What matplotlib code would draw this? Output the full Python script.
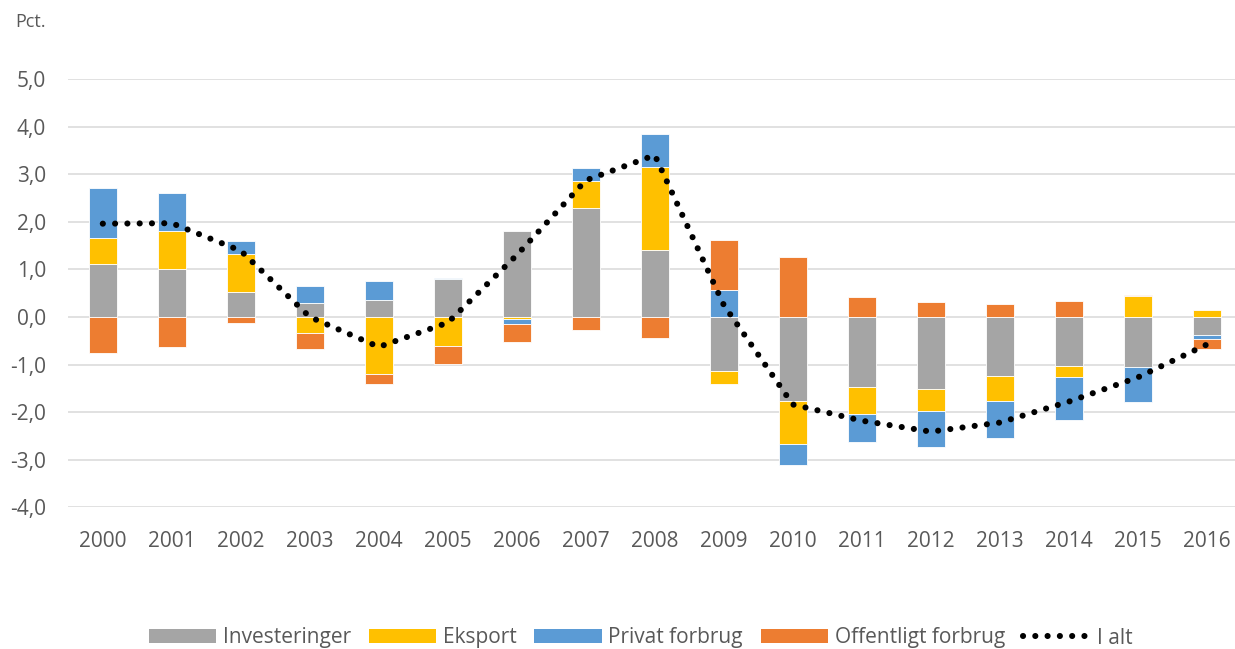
import numpy as np
import matplotlib
matplotlib.use("Agg")
import matplotlib.pyplot as plt
from matplotlib.patches import Patch
from matplotlib.ticker import FuncFormatter

years = [str(y) for y in range(2000, 2017)]
investeringer = [1.12, 1.00, 0.53, 0.29, 0.36, 0.80, 1.81, 2.29, 1.40, -1.14, -1.77, -1.47, -1.52, -1.24, -1.03, -1.06, -0.38]
eksport = [0.54, 0.81, 0.79, -0.33, -1.19, -0.62, -0.05, 0.57, 1.76, -0.26, -0.89, -0.56, -0.45, -0.52, -0.23, 0.43, 0.15]
privat_forbrug = [1.05, 0.80, 0.28, 0.37, 0.40, 0.01, -0.10, 0.27, 0.69, 0.57, -0.46, -0.59, -0.77, -0.78, -0.91, -0.72, -0.09]
offentligt_forbrug = [-0.76, -0.64, -0.13, -0.34, -0.21, -0.36, -0.37, -0.28, -0.44, 1.04, 1.26, 0.42, 0.32, 0.28, 0.33, 0.03, -0.20]
i_alt = [1.96, 1.97, 1.39, 0.0, -0.63, -0.12, 1.30, 2.87, 3.40, 0.25, -1.84, -2.18, -2.41, -2.22, -1.78, -1.27, -0.58]

series_names = ["Investeringer", "Eksport", "Privat forbrug", "Offentligt forbrug"]
series_colors = ["#A5A5A5", "#FFC000", "#5B9BD5", "#ED7D31"]
series_values = [investeringer, eksport, privat_forbrug, offentligt_forbrug]

plt.rcParams['font.family'] = ['Open Sans', 'DejaVu Sans']
W, H = 1235, 649
fig = plt.figure(figsize=(W / 100, H / 100), dpi=100)
left_px, right_px, top_px, bot_px = 68.3, 1241.3, 79.0, 507.3
ax = fig.add_axes([left_px / W, 1 - bot_px / H, (right_px - left_px) / W, (bot_px - top_px) / H])

x = np.arange(len(years))
pos_bottom = np.zeros(len(years))
neg_bottom = np.zeros(len(years))
handles = []
for name, vals, col in zip(series_names, series_values, series_colors):
    v = np.array(vals, dtype=float)
    bottoms = np.where(v >= 0, pos_bottom, neg_bottom)
    ax.bar(x, v, width=0.4, bottom=bottoms, color=col, edgecolor='white', linewidth=0.6, zorder=3)
    pos_bottom += np.where(v >= 0, v, 0)
    neg_bottom += np.where(v < 0, v, 0)
    handles.append(Patch(facecolor=col, edgecolor='none'))

lw_dot = 4.4
dotstyle = (0, (0.01, 2.0))
line, = ax.plot(x, i_alt, color='black', linewidth=lw_dot, linestyle=dotstyle,
                dash_capstyle='round', zorder=4)
handles.append(line)

ax.set_xlim(-0.5, len(years) - 0.5)
ax.set_ylim(-4, 5)
ax.set_yticks(np.arange(-4, 6, 1))
ax.yaxis.set_major_formatter(FuncFormatter(lambda v, p: f"{v:.1f}".replace('.', ',')))
ax.set_xticks(x)
ax.set_xticklabels(years)
ax.grid(axis='y', color='#D9D9D9', linewidth=1.1, zorder=0)
ax.set_axisbelow(True)
for s in ax.spines.values():
    s.set_visible(False)
ax.tick_params(axis='both', length=0, labelsize=15, labelcolor='#595959')
ax.tick_params(axis='y', pad=16)
ax.tick_params(axis='x', pad=17)

fig.text(15 / W, 1 - 22 / H, "Pct.", fontsize=13, color='#595959', va='center', ha='left')

labels = series_names + ["I alt"]
fig.legend(handles, labels, loc='center', bbox_to_anchor=(640.5 / W, 1 - 638 / H), ncol=5,
           frameon=False, fontsize=15, labelcolor='#595959', handlelength=3.24, handleheight=0.67,
           handletextpad=0.31, columnspacing=0.86, borderpad=0, borderaxespad=0)

fig.savefig("out.png", dpi=100)
